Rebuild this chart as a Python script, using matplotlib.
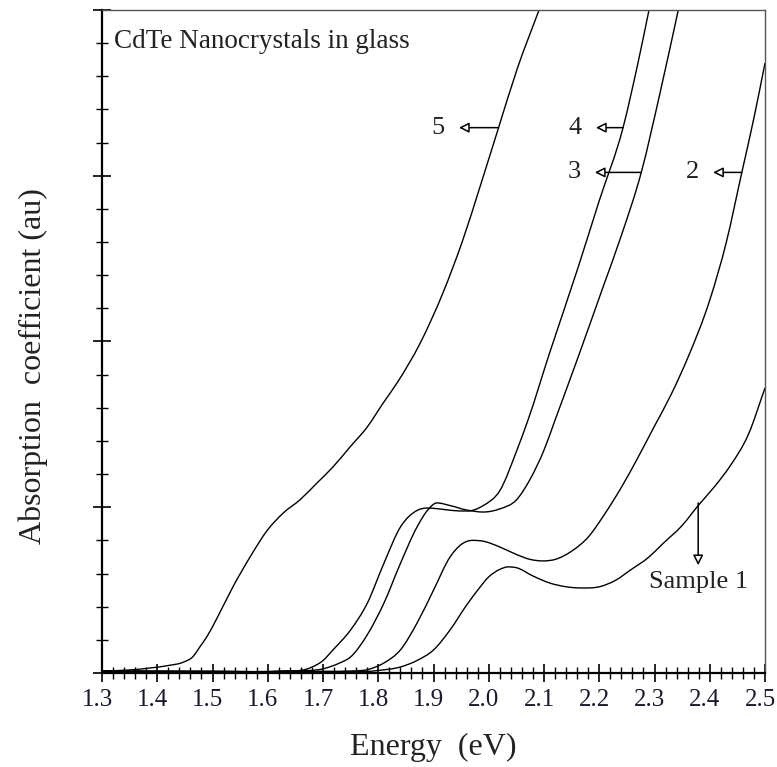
import matplotlib
matplotlib.use("Agg")
import matplotlib.pyplot as plt
import matplotlib.transforms as mtransforms
from matplotlib.path import Path
from matplotlib.patches import PathPatch
from matplotlib.ticker import MultipleLocator, FormatStrFormatter, NullFormatter

plt.rcParams['font.family'] = ['Liberation Serif', 'DejaVu Serif']

# Absorption spectra of CdTe nanocrystals (energy in eV, absorption in arbitrary units)
e1 = [1.30, 1.50, 1.70, 1.80, 1.84, 1.87, 1.90, 1.93, 1.96, 1.98, 2.00, 2.02, 2.035,
      2.05, 2.08, 2.11, 2.14, 2.165, 2.20, 2.23, 2.256, 2.29, 2.315, 2.35, 2.379, 2.41,
      2.437, 2.47, 2.50]
a1 = [0.010, 0.008, 0.008, 0.015, 0.036, 0.075, 0.139, 0.26, 0.41, 0.50, 0.58, 0.625, 0.640,
      0.635, 0.585, 0.543, 0.520, 0.513, 0.520, 0.560, 0.620, 0.700, 0.780, 0.890, 1.010, 1.130,
      1.250, 1.440, 1.720]

e2 = [1.30, 1.50, 1.70, 1.75, 1.78, 1.81, 1.84, 1.87, 1.90, 1.93, 1.95, 1.971, 1.99,
      2.02, 2.05, 2.075, 2.098, 2.12, 2.15, 2.18, 2.21, 2.24, 2.27, 2.30, 2.33, 2.36,
      2.40, 2.43, 2.458, 2.48, 2.50]
a2 = [0.010, 0.008, 0.010, 0.012, 0.020, 0.060, 0.139, 0.300, 0.500, 0.700, 0.775, 0.800, 0.795,
      0.760, 0.715, 0.685, 0.676, 0.685, 0.735, 0.820, 0.960, 1.120, 1.300, 1.490, 1.680, 1.900,
      2.250, 2.600, 3.020, 3.350, 3.680]

e3 = [1.30, 1.50, 1.65, 1.70, 1.73, 1.75, 1.78, 1.81, 1.84, 1.87, 1.89, 1.906, 1.93,
      1.96, 1.99, 2.02, 2.05, 2.075, 2.10, 2.12, 2.16, 2.207, 2.24, 2.276, 2.31, 2.343]
a3 = [0.012, 0.010, 0.012, 0.025, 0.060, 0.097, 0.230, 0.420, 0.660, 0.880, 0.985, 1.026, 1.010,
      0.983, 0.971, 0.990, 1.044, 1.170, 1.345, 1.526, 1.890, 2.330, 2.640, 3.020, 3.500, 4.000]

e4 = [1.30, 1.50, 1.62, 1.676, 1.70, 1.718, 1.75, 1.78, 1.81, 1.84, 1.87, 1.888, 1.91,
      1.935, 1.961, 1.99, 2.02, 2.051, 2.071, 2.11, 2.162, 2.20, 2.243, 2.27, 2.29]
a4 = [0.012, 0.010, 0.012, 0.030, 0.075, 0.139, 0.260, 0.420, 0.660, 0.880, 0.980, 0.995, 0.990,
      0.980, 0.977, 1.010, 1.100, 1.345, 1.526, 1.930, 2.450, 2.850, 3.290, 3.680, 4.000]

e5 = [1.30, 1.35, 1.387, 1.42, 1.447, 1.465, 1.477, 1.49, 1.508, 1.537, 1.568, 1.599, 1.628,
      1.658, 1.689, 1.718, 1.749, 1.780, 1.809, 1.834, 1.876, 1.917, 1.953, 1.984, 2.017,
      2.052, 2.091]
a5 = [0.012, 0.018, 0.030, 0.045, 0.065, 0.100, 0.157, 0.220, 0.330, 0.520, 0.700, 0.860, 0.965,
      1.044, 1.146, 1.243, 1.364, 1.484, 1.629, 1.750, 1.991, 2.293, 2.612, 2.932, 3.282,
      3.650, 4.000]

spectra = [(e1, a1), (e2, a2), (e3, a3), (e4, a4), (e5, a5)]

# curve labels: text, arrow start on the curve, text position
labels = ["Sample 1", "2", "3", "4", "5"]
arrow_from = [(2.379, 1.026), (2.458, 3.02), (2.276, 3.02), (2.243, 3.29), (2.017, 3.29)]
text_at = [(2.379, 0.55), (2.368, 3.02), (2.154, 3.02), (2.156, 3.29), (1.908, 3.29)]


def smooth_path(x, y):
    # cubic Bezier segments through every point, slopes from neighbouring points
    n = len(x)
    d = [(y[i + 1] - y[i]) / (x[i + 1] - x[i]) for i in range(n - 1)]
    m = [d[0]]
    for i in range(1, n - 1):
        if d[i - 1] * d[i] <= 0:
            m.append(0.0)
        else:
            h0, h1 = x[i] - x[i - 1], x[i + 1] - x[i]
            m.append((d[i - 1] * h1 + d[i] * h0) / (h0 + h1))
    m.append(d[-1])
    verts = [(x[0], y[0])]
    codes = [Path.MOVETO]
    for i in range(n - 1):
        h = x[i + 1] - x[i]
        verts += [(x[i] + h / 3, y[i] + m[i] * h / 3),
                  (x[i + 1] - h / 3, y[i + 1] - m[i + 1] * h / 3),
                  (x[i + 1], y[i + 1])]
        codes += [Path.CURVE4] * 3
    return Path(verts, codes)


fig = plt.figure(figsize=(7.77, 7.67), dpi=100)
ax = fig.add_axes([0.1313, 0.1226, 0.8533, 0.8644])

for e, a in spectra:
    ax.add_patch(PathPatch(smooth_path(e, a), fill=False, ec='black', lw=1.0))

arrow_style = dict(arrowstyle='-|>', fc='white', ec='black', lw=1.1,
                   mutation_scale=15, shrinkA=0, shrinkB=0)
for lab, start, pos in zip(labels, arrow_from, text_at):
    if lab == "Sample 1":
        ax.annotate("", xy=(start[0], 0.65), xytext=start, arrowprops=arrow_style)
    else:
        ax.annotate("", xy=(pos[0] + 0.038, pos[1]), xytext=start, arrowprops=arrow_style)
    ax.text(pos[0], pos[1], lab, fontsize=19, ha='center', va='center', color='#222')

ax.text(1.322, 3.81, "CdTe Nanocrystals in glass", fontsize=19.5, ha='left', va='center',
        color='#222')

ax.xaxis.set_major_locator(MultipleLocator(0.1))
ax.xaxis.set_minor_locator(MultipleLocator(0.02))
ax.xaxis.set_major_formatter(FormatStrFormatter('%.1f'))
ax.yaxis.set_major_locator(MultipleLocator(1))
ax.yaxis.set_minor_locator(MultipleLocator(0.2))
ax.yaxis.set_major_formatter(NullFormatter())
ax.set_xlim(1.3, 2.5)
ax.set_ylim(0, 4)

ax.tick_params(which='major', direction='inout', length=13, width=1.2, labelsize=18,
               pad=5, colors='black')
ax.tick_params(which='minor', direction='inout', length=8, width=1.0)
ax.tick_params(axis='x', labelcolor='#1a1a2e')

# nudge the energy labels a little to the left
shift = mtransforms.ScaledTranslation(-5 / 100, 0, fig.dpi_scale_trans)
for lbl in ax.get_xticklabels():
    lbl.set_transform(lbl.get_transform() + shift)

for side in ['left', 'bottom']:
    ax.spines[side].set_linewidth(1.6)
for side in ['top', 'right']:
    ax.spines[side].set_linewidth(1.0)
    ax.spines[side].set_color('#555555')

ax.set_xlabel("Energy  (eV)", fontsize=23, labelpad=16, color='#222')
ax.set_ylabel("Absorption  coefficient (au)", fontsize=23, color='#222')
ax.yaxis.set_label_coords(-0.082, 0.463)

fig.savefig("out.png", dpi=100)
